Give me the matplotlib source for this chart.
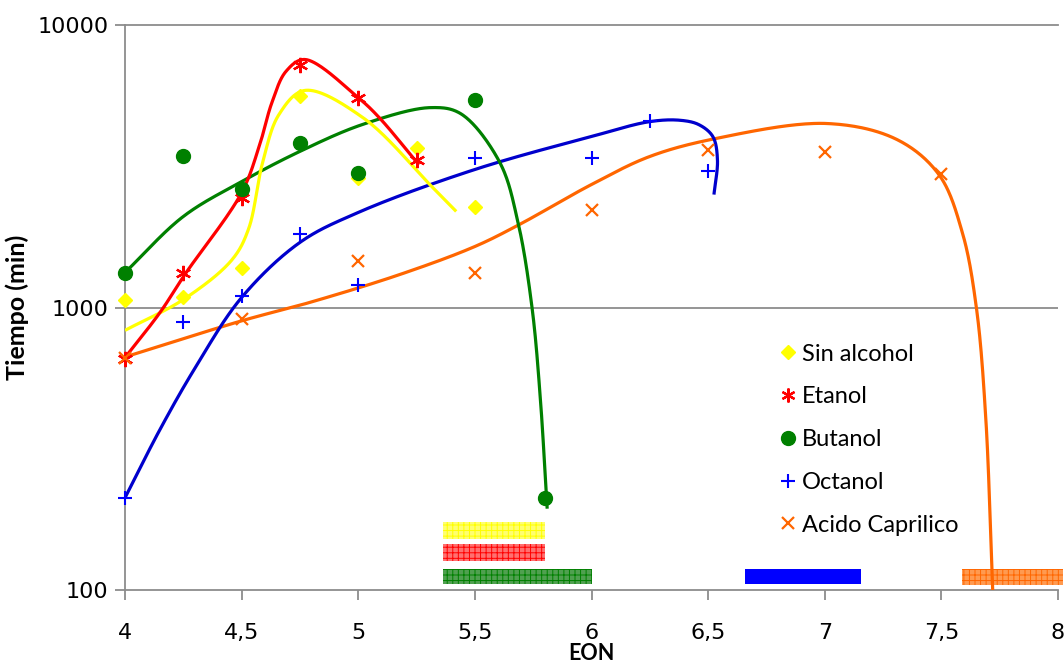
import numpy as np
import matplotlib
matplotlib.use("Agg")
import matplotlib.pyplot as plt
from matplotlib.lines import Line2D

# ---------------- data ----------------
eon_sin = [4.0, 4.25, 4.5, 4.75, 5.0, 5.25, 5.5]
t_sin = [1060, 1085, 1385, 5620, 2865, 3680, 2260]

eon_eta = [4.0, 4.25, 4.5, 4.75, 5.0, 5.25]
t_eta = [659, 1330, 2450, 7245, 5530, 3340]

eon_but = [4.0, 4.25, 4.5, 4.75, 5.0, 5.5, 5.8]
t_but = [1330, 3425, 2620, 3835, 3005, 5410, 211]

eon_oct = [4.0, 4.25, 4.5, 4.75, 5.0, 5.5, 6.0, 6.25, 6.5]
t_oct = [211, 892, 1094, 1827, 1206, 3395, 3370, 4590, 3054]

eon_cap = [4.0, 4.5, 5.0, 5.5, 6.0, 6.5, 7.0, 7.5]
t_cap = [665, 907, 1455, 1330, 2222, 3624, 3540, 2978]

# smooth trend curves (knots)
curve_sin_x = [4.0, 4.257, 4.46, 4.53, 4.59, 4.66, 4.77, 5.02, 5.315, 5.42]
curve_sin_y = [830, 1076, 1480, 1900, 3260, 4820, 5865, 4700, 2680, 2188]

curve_eta_x = [4.0, 4.15, 4.257, 4.5, 4.575, 4.63, 4.69, 4.77, 5.0, 5.09, 5.26]
curve_eta_y = [665, 960, 1310, 2550, 3710, 5320, 6850, 7550, 5530, 4700, 3200]

curve_but_x = [4.0, 4.25, 4.5, 4.75, 5.02, 5.31, 5.44, 5.607, 5.685, 5.745, 5.78, 5.81]
curve_but_y = [1330, 2100, 2790, 3570, 4450, 5100, 4850, 3260, 2000, 1000, 485, 194]

curve_oct_x = [4.0, 4.15, 4.3, 4.5, 4.75, 5.0, 5.5, 6.0, 6.25, 6.38, 6.46, 6.52, 6.54, 6.525]
curve_oct_y = [212, 370, 610, 1085, 1700, 2170, 3080, 4030, 4550, 4600, 4440, 4030, 3340, 2510]

curve_cap_x = [4.0, 4.506, 4.79, 5.18, 5.5, 5.69, 6.0, 6.25, 6.53, 7.01, 7.31, 7.49, 7.59, 7.65, 7.69, 7.72]
curve_cap_y = [668, 900, 1041, 1310, 1644, 1965, 2725, 3425, 3960, 4480, 3930, 2950, 1840, 1000, 411, 100]

# ranges shown as bars at the bottom (x from, x to, y low, y high)
band_sin = (5.363, 5.80, 151.5, 174)
band_eta = (5.363, 5.80, 126.7, 145.5)
band_but = (5.363, 6.00, 105, 118.7)
band_oct = (6.657, 7.155, 104.9, 118.7)
band_cap = (7.59, 8.02, 104.2, 118.7)

labels = ["Sin alcohol", "Etanol", "Butanol", "Octanol", "Acido Caprilico"]
x_ticklabels = ["4", "4,5", "5", "5,5", "6", "6,5", "7", "7,5", "8"]

# ---------------- helpers ----------------
def catmull_rom(xs, ys, n=40, alpha=0.5):
    # centripetal Catmull-Rom in screen-like space (x linear, y log)
    P = np.column_stack([(np.asarray(xs) - 4.0) * 233.3,
                         np.log10(np.asarray(ys, dtype=float)) * 282.5])
    P = np.vstack([2 * P[0] - P[1], P, 2 * P[-1] - P[-2]])
    out = []
    for i in range(len(P) - 3):
        p0, p1, p2, p3 = P[i:i + 4]
        t0 = 0.0
        t1 = t0 + max(np.linalg.norm(p1 - p0), 1e-6) ** alpha
        t2 = t1 + max(np.linalg.norm(p2 - p1), 1e-6) ** alpha
        t3 = t2 + max(np.linalg.norm(p3 - p2), 1e-6) ** alpha
        t = np.linspace(t1, t2, n)[:, None]
        A1 = (t1 - t) / (t1 - t0) * p0 + (t - t0) / (t1 - t0) * p1
        A2 = (t2 - t) / (t2 - t1) * p1 + (t - t1) / (t2 - t1) * p2
        A3 = (t3 - t) / (t3 - t2) * p2 + (t - t2) / (t3 - t2) * p3
        B1 = (t2 - t) / (t2 - t0) * A1 + (t - t0) / (t2 - t0) * A2
        B2 = (t3 - t) / (t3 - t1) * A2 + (t - t1) / (t3 - t1) * A3
        C = (t2 - t) / (t2 - t1) * B1 + (t - t1) / (t2 - t1) * B2
        out.append(C)
    C = np.vstack(out)
    return C[:, 0] / 233.3 + 4.0, 10 ** (C[:, 1] / 282.5)

# ---------------- figure ----------------
plt.rcParams["hatch.linewidth"] = 0.7
fig = plt.figure(figsize=(10.64, 6.68), dpi=100)
ax = fig.add_axes([125 / 1064, 78 / 668, 933 / 1064, 565 / 668])

ax.set_yscale("log")
ax.set_xlim(4, 8)
ax.set_ylim(100, 10000)

grey = "#8c8c8c"
ax.axhline(1000, color=grey, lw=1.3, zorder=1)
ax.axhline(10000, color=grey, lw=1.3, zorder=1, clip_on=False)

c_yel, c_red, c_grn, c_blu, c_org = "#FFFF00", "#FF0000", "#008000", "#0000FF", "#FF6600"
line_blu = "#0000CC"

# bands
def band(b, color, face, hatch):
    x0, x1, y0, y1 = b
    ax.bar(x0, y1 - y0, bottom=y0, width=x1 - x0, align="edge",
           facecolor=face, edgecolor=color, hatch=hatch, linewidth=0,
           zorder=2, clip_on=False)

band(band_sin, c_yel, "#FFFF70", "+++")
band(band_eta, c_red, "#FF7070", "+++")
band(band_but, c_grn, "#50A050", "+++")
band(band_oct, c_blu, c_blu, None)
band(band_cap, c_org, "#FF9A50", "+++")

# curves
lw = 2.3
for cx, cy, col in [(curve_cap_x, curve_cap_y, c_org),
                    (curve_oct_x, curve_oct_y, line_blu),
                    (curve_but_x, curve_but_y, c_grn),
                    (curve_sin_x, curve_sin_y, c_yel),
                    (curve_eta_x, curve_eta_y, c_red)]:
    sx, sy = catmull_rom(cx, cy)
    ax.plot(sx, sy, color=col, lw=lw, zorder=3, solid_capstyle="butt")

# markers
ast = (6, 2, 0)
ax.plot(eon_sin, t_sin, ls="none", marker="D", ms=7, color=c_yel, mec=c_yel, zorder=4, clip_on=False)
ax.plot(eon_eta, t_eta, ls="none", marker=ast, ms=11, color=c_red, mew=1.6, zorder=4, clip_on=False)
ax.plot(eon_but, t_but, ls="none", marker="o", ms=10, color=c_grn, zorder=4, clip_on=False)
ax.plot(eon_oct, t_oct, ls="none", marker="+", ms=10, color=c_blu, mew=1.5, zorder=4, clip_on=False)
ax.plot(eon_cap, t_cap, ls="none", marker="x", ms=9, color=c_org, mew=1.6, zorder=4, clip_on=False)

# axes styling
for s in ["top", "right"]:
    ax.spines[s].set_visible(False)
for s in ["left", "bottom"]:
    ax.spines[s].set_color(grey)
    ax.spines[s].set_linewidth(1.3)
ax.spines["bottom"].set_zorder(2.5)

ax.set_xticks([4, 4.5, 5, 5.5, 6, 6.5, 7, 7.5, 8])
ax.set_xticklabels(x_ticklabels, fontsize=16, family=["Liberation Sans Narrow", "DejaVu Sans"])
ax.set_yticks([100, 1000, 10000])
ax.set_yticklabels(["100", "1000", "10000"], fontsize=16, family="DejaVu Sans")
ax.yaxis.set_minor_locator(matplotlib.ticker.NullLocator())
ax.tick_params(axis="both", direction="out", color=grey, width=1.3, length=7, labelcolor="black")
ax.tick_params(axis="x", pad=17)
ax.tick_params(axis="y", pad=5)

ax.set_xlabel("EON", fontsize=15.5, fontweight="bold", family="Lato", labelpad=0)
ax.set_ylabel("Tiempo (min)", fontsize=18, fontweight="bold", family="Lato", labelpad=6)

handles = [
    Line2D([], [], ls="none", marker="D", ms=7, color=c_yel),
    Line2D([], [], ls="none", marker=ast, ms=10, color=c_red, mew=1.6),
    Line2D([], [], ls="none", marker="o", ms=10, color=c_grn),
    Line2D([], [], ls="none", marker="+", ms=10, color=c_blu, mew=1.5),
    Line2D([], [], ls="none", marker="x", ms=9, color=c_org, mew=1.6),
]
leg = ax.legend(handles, labels, loc="upper left", bbox_to_anchor=(0.703, 0.436),
                frameon=False, prop={"family": "Lato", "size": 17},
                handlelength=0.6, handletextpad=0.3, labelspacing=0.92,
                borderpad=0, borderaxespad=0)

fig.savefig("out.png", dpi=100)
